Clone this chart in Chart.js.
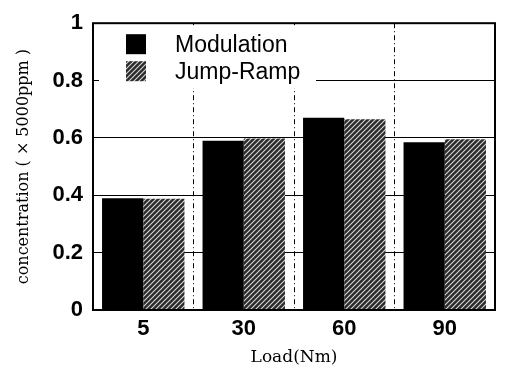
<!DOCTYPE html>
<html>
<head>
<meta charset="utf-8">
<script src="https://cdn.jsdelivr.net/npm/chart.js@4/dist/chart.umd.min.js"></script>
<style>
    html, body { margin: 0; padding: 0; background: #fff; }
    #wrap { width: 506px; height: 370px; }
</style>
</head>
<body>
<div id="wrap"><canvas id="chart" width="506" height="370"></canvas></div>
<script>
// Chart values
const loads = ['5', '30', '60', '90'];
const modulation = [0.39, 0.59, 0.67, 0.585];
const jumpRamp = [0.388, 0.598, 0.665, 0.595];
const seriesNames = ['Modulation', 'Jump-Ramp'];

const yMin = 0;
const yMax = 1;
const yStep = 0.2;

/**
 * Diagonal hatch used for the Jump-Ramp bars
 */
function makeHatch() {
    const size = 5;
    const c = document.createElement('canvas');
    c.width = size;
    c.height = size;
    const g = c.getContext('2d');
    g.fillStyle = '#2b2b2b';
    g.fillRect(0, 0, size, size);
    g.strokeStyle = '#d8d8d8';
    g.lineWidth = 1.1;
    g.beginPath();
    g.moveTo(0, size);
    g.lineTo(size, 0);
    g.moveTo(-1, 1);
    g.lineTo(1, -1);
    g.moveTo(size - 1, size + 1);
    g.lineTo(size + 1, size - 1);
    g.stroke();
    return g.createPattern(c, 'repeat');
}

const hatch = makeHatch();

// Legend drawn inside the plot, top-left, on a white box
const insideLegend = {
    id: 'insideLegend',
    afterDatasetsDraw(chart) {
        const { ctx, chartArea } = chart;
        const x0 = chartArea.left;
        const y0 = chartArea.top;
        ctx.save();
        ctx.fillStyle = '#fff';
        ctx.fillRect(x0 + 6, y0 + 2, 217, 63);
        chart.data.datasets.forEach((ds, i) => {
            const sy = y0 + 11 + i * 27;
            ctx.fillStyle = ds.backgroundColor;
            ctx.fillRect(x0 + 33, sy, 20, 20);
            ctx.fillStyle = '#000';
            ctx.font = '23px "Liberation Sans", Arial, sans-serif';
            ctx.textBaseline = 'middle';
            ctx.textAlign = 'left';
            ctx.fillText(ds.label, x0 + 82, sy + 11);
        });
        ctx.restore();
    }
};

// Heavy frame round the plot area
const frame = {
    id: 'frame',
    afterDraw(chart) {
        const { ctx, chartArea } = chart;
        ctx.save();
        ctx.strokeStyle = '#000';
        ctx.lineWidth = 2;
        ctx.strokeRect(chartArea.left, chartArea.top,
            chartArea.right - chartArea.left, chartArea.bottom - chartArea.top);
        ctx.restore();
    }
};

const tickFont = { family: '"Liberation Sans", Arial, sans-serif', size: 22, weight: 'bold' };
const titleFamily = '"DejaVu Serif", "Liberation Serif", serif';

new Chart(document.getElementById('chart').getContext('2d'), {
    type: 'bar',
    data: {
        labels: loads,
        datasets: [
            {
                label: seriesNames[0],
                data: modulation,
                backgroundColor: '#000',
                borderWidth: 0
            },
            {
                label: seriesNames[1],
                data: jumpRamp,
                backgroundColor: hatch,
                borderWidth: 0
            }
        ]
    },
    options: {
        responsive: false,
        animation: false,
        devicePixelRatio: 1,
        layout: {
            padding: { top: 14, right: 11, left: 0, bottom: 0 }
        },
        datasets: {
            bar: {
                categoryPercentage: 0.82,
                barPercentage: 1
            }
        },
        scales: {
            x: {
                grid: {
                    color: '#000',
                    lineWidth: 1,
                    drawTicks: false,
                    offset: true
                },
                border: { display: false, dash: [5, 3, 1, 3] },
                ticks: {
                    color: '#000',
                    font: tickFont,
                    padding: 6
                },
                title: {
                    display: true,
                    text: 'Load(Nm)',
                    color: '#000',
                    font: { family: titleFamily, size: 17 },
                    padding: { top: 0, bottom: 2 }
                },
                afterFit(scale) {
                    scale.height = 60;
                }
            },
            y: {
                min: yMin,
                max: yMax,
                ticks: {
                    stepSize: yStep,
                    color: '#000',
                    font: tickFont,
                    padding: 10,
                    callback: (v) => String(Math.round(v * 10) / 10)
                },
                grid: {
                    color: '#000',
                    lineWidth: 1,
                    drawTicks: false
                },
                border: { display: false },
                title: {
                    display: true,
                    text: 'concentration ( × 5000ppm )',
                    color: '#000',
                    font: { family: titleFamily, size: 16 },
                    padding: { top: 14, bottom: 0 }
                },
                afterFit(scale) {
                    scale.width = 93;
                }
            }
        },
        plugins: {
            legend: { display: false },
            tooltip: { enabled: false }
        }
    },
    plugins: [insideLegend, frame]
});
</script>
</body>
</html>
